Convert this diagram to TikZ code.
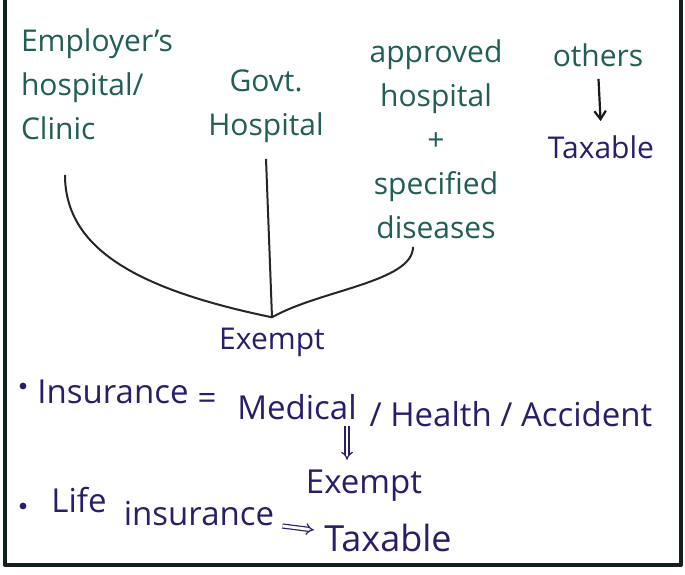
\documentclass[tikz,border=0pt]{standalone}
\usepackage{fontspec}
\setmainfont{Open Sans}
\usetikzlibrary{arrows.meta, positioning}
\definecolor{inkgreen}{HTML}{215E57}
\definecolor{inknavy}{HTML}{2A1E6B}
\definecolor{framecol}{HTML}{13211B}

\begin{document}
\begin{tikzpicture}[
    x=0.5pt, y=-0.5pt,
    note/.style={align=center, font=\fontsize{15}{22}\selectfont, text=inkgreen, inner sep=1pt},
    result/.style={font=\fontsize{15}{19}\selectfont, text=inknavy, inner sep=3pt},
    bottomtext/.style={font=\fontsize{16.5}{20}\selectfont, text=inknavy, inner sep=1pt},
    dot/.style={circle, fill=inknavy, inner sep=0pt, minimum size=3.4pt},
    branch/.style={line width=1pt, black!85},
    arrow/.style={-{Straight Barb[angle=70:5pt]}, line width=1.1pt, black!90},
    dblarrow/.style={-{Implies}, double, double distance=1.4pt, line width=0.6pt, inknavy}
]
    \fill[white] (0,0) rectangle (685,574);
    \useasboundingbox (0,0) rectangle (685,574);

    % frame
    \draw[framecol, line width=2pt, line join=round] (5,0) -- (5,565) -- (681,565) -- (681,0);

    % hospital cases
    \node[note, align=left] (emp) at (97,84) {Employer's\\hospital/\\Clinic};
    \node[note] (govt) at (266,106) {Govt.\\Hospital};
    \node[note] (appr) at (436,139) {approved\\hospital\\+\\specified\\diseases};
    \node[note] (others) at (598,55) {others};
    \node[result] (tax1) at (601,147) {Taxable};
    \node[result] (ex1) at (272,342) {Exempt};

    \draw[arrow, shorten <=5pt, shorten >=4pt] (others.south) -- (tax1.north);

    \draw[branch] ([shift={(-32,33)}]emp.south) .. controls +(0,75) and (140,290) .. ([yshift=2pt]ex1.north);
    \draw[branch] ([yshift=-7pt]govt.south) -- ([yshift=2pt]ex1.north);
    \draw[branch] ([shift={(-23,6)}]appr.south) .. controls +(0,35) and (320,290) .. ([yshift=2pt]ex1.north);

    % insurance
    \node[dot] (b1) at (23,386) {};
    \node[bottomtext] (ins) at (113,392) {Insurance};
    \node[bottomtext] (eq) at (207,401) {=};
    \node[bottomtext] (med) at (297,407) {Medical};
    \node[bottomtext] (hea) at (511,414) {/ Health / Accident};
    \node[bottomtext] (ex2) at (364,486) {Exempt};

    \draw[dblarrow] ([xshift=-6pt, yshift=-2pt]med.south east) -- ([xshift=-6pt, yshift=4pt]med.south east |- ex2.north);

    % life insurance
    \node[dot] (b2) at (23,506) {};
    \node[bottomtext] (life) at (79,500) {Life};
    \node[bottomtext] (insr) at (199,514) {insurance};
    \node[bottomtext, font=\fontsize{18}{22}\selectfont] (tax2) at (388,538) {Taxable};

    \draw[dblarrow] ([shift={(6,12)}]insr.east) -- ([shift={(-8,-8)}]tax2.west);
\end{tikzpicture}
\end{document}
